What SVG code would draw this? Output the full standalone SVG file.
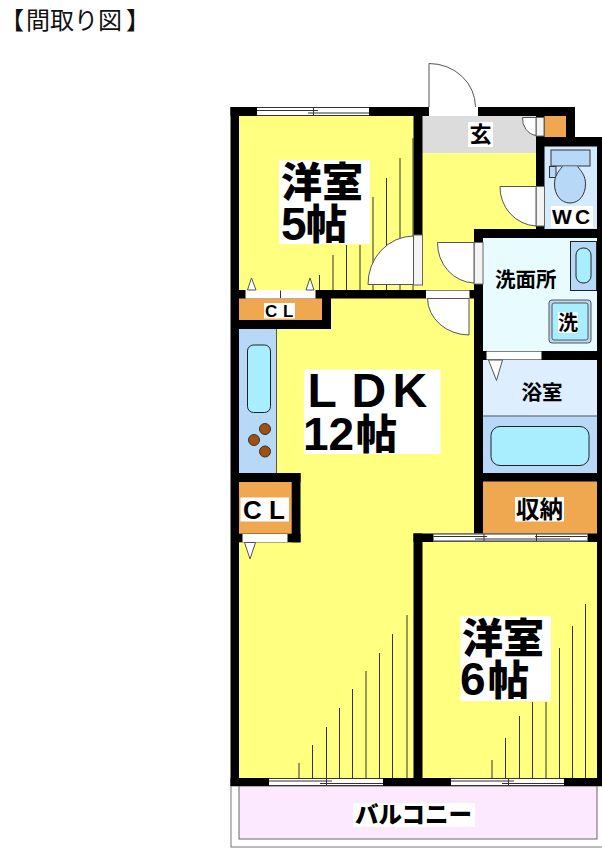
<svg xmlns="http://www.w3.org/2000/svg" width="602" height="852" viewBox="0 0 602 852">
<style>
.t{font-family:"Noto Sans CJK JP","Noto Sans",sans-serif;font-weight:700;fill:#000}
.big{font-family:"Noto Sans CJK JP","Noto Sans",sans-serif;font-weight:900;fill:#000;font-size:41px}
.a{font-family:"Liberation Sans",Arial,sans-serif;font-weight:700;fill:#000}
.w{fill:#000}
.box{fill:#fff}
.y{fill:#ffff80}
.o{fill:#f0a850}
.b{fill:#b8d8f8}
.c{fill:#a8eeff;stroke:#222;stroke-width:1}
.door{fill:#fff;stroke:#555;stroke-width:1}
.hl{stroke:#333;stroke-width:1;fill:none}
.gl{stroke:#555;stroke-width:1;fill:none}
.op{fill:#f4f4f4;stroke:#666;stroke-width:1}
.win{fill:#fff}
</style>
<rect width="602" height="852" fill="#fff"/>
<text x="0 26 50 74 98 126" y="29" font-size="24" style="font-family:'Noto Sans CJK JP','Noto Sans',sans-serif;fill:#111">【間取り図】</text>

<g id="balcony">
<rect x="231" y="786" width="380" height="61" fill="#fff" stroke="#777" stroke-width="1"/>
<rect x="239" y="786" width="358" height="53" fill="#fce8ff" stroke="#666" stroke-width="1"/>
<rect class="box" x="353" y="803" width="122" height="24"/>
<text class="t" x="355" y="823" font-size="23.500" style="font-weight:900">バルコニー</text>
</g>

<g id="floors">
<rect class="y" x="239" y="116" width="336" height="30"/>
<rect class="y" x="239" y="146" width="358" height="632"/>
<rect x="422" y="116" width="114" height="37" fill="#dcdcdc"/>
<rect x="544" y="146" width="53" height="84" fill="#d4eaff"/>
<rect x="483" y="238" width="114" height="113" fill="#e8fbff"/>
<rect x="483" y="360" width="114" height="56" fill="#dceeff"/>
<rect class="b" x="483" y="416" width="114" height="57"/>
<rect class="o" x="483" y="481" width="114" height="53"/>
<rect class="o" x="544" y="116" width="22" height="21"/>
<rect class="o" x="239" y="298" width="83" height="22"/>
<rect class="o" x="239" y="482" width="53" height="52"/>
<rect class="b" x="239" y="329" width="38" height="144"/>
<line class="gl" x1="483" y1="416" x2="597" y2="416"/>
<line class="gl" x1="276.500" y1="329" x2="276.500" y2="473"/>
</g>

<g id="walls">
<rect class="w" x="230.500" y="107" width="8.500" height="679"/>
<rect class="w" x="230.500" y="107" width="344.500" height="9"/>
<rect class="w" x="230.500" y="778" width="371.500" height="8"/>
<rect class="w" x="597" y="137" width="5" height="649"/>
<rect class="w" x="566" y="107" width="9" height="39"/>
<rect class="w" x="536" y="137" width="66" height="9.500"/>
<rect class="w" x="536" y="116" width="8.500" height="114"/>
<rect class="w" x="413.500" y="107" width="9" height="178"/>
<rect class="w" x="239" y="290" width="244" height="8.500"/>
<rect class="w" x="322" y="290" width="9" height="39"/>
<rect class="w" x="239" y="320" width="92" height="9"/>
<rect class="w" x="474" y="229" width="128" height="9"/>
<rect class="w" x="474" y="229" width="9" height="305"/>
<rect class="w" x="483" y="351" width="119" height="9"/>
<rect class="w" x="483" y="473" width="119" height="8.500"/>
<rect class="w" x="413.500" y="533.500" width="188.500" height="8.500"/>
<rect class="w" x="413.500" y="533.500" width="9" height="252"/>
<rect class="w" x="239" y="473" width="61.500" height="9"/>
<rect class="w" x="291.700" y="473" width="8.800" height="69.300"/>
<rect class="w" x="239" y="533.700" width="61.500" height="8.600"/>
</g>

<g id="floor-lines">
<path class="hl" d="M319.500 290V275M333 290V255M346.500 290V245M360 290V245M373 290V197M386.500 290V178M400 290V158M413 138V290"/>
<path class="hl" d="M299 778V763M312.500 778V745M326.500 786V727M339.500 778V708M352.500 778V689M366 778V671M379.500 778V653M392.500 778V634M407 778V615"/>
<path class="hl" d="M492 778V760M505.500 778V738M519.500 778V716M532.500 778V702M546 778V702M559.500 778V648M572.500 778V626M585.500 778V604"/>
</g>

<g id="windows">
<g id="window-north">
<rect class="win" x="257" y="107" width="112" height="9"/>
<path class="hl" d="M257 107.500H369M257 115.500H369M257 110.500H318M308 113H369M313.500 108V115"/>
</g>
<g id="window-south-1">
<rect class="win" x="269" y="778" width="114" height="8"/>
<path class="hl" d="M269 778.500H383M269 785.500H383M269 781H332M320 783.500H383M326.500 778V786"/>
</g>
<g id="window-south-2">
<rect class="win" x="451" y="778" width="113" height="8"/>
<path class="hl" d="M451 778.500H564M451 785.500H564M451 781H514M502 783.500H564M508.500 778V786"/>
</g>
<g id="window-storage">
<rect class="win" x="433.500" y="533.500" width="154" height="8"/>
<path class="hl" d="M433.500 534H587.500M433.500 541H587.500M433.500 536.500H487M484 534V541M475 539H520M535 536.500H587M536.500 534V541M520 539H570"/>
</g>
</g>

<g id="doors">
<g id="door-entry">
<rect class="win" x="429" y="107" width="49" height="9"/>
<path class="door" d="M429 107V63.500A46.500 43.500 0 0 1 475.500 107"/>
</g>
<g id="door-room5">
<rect class="op" x="413.500" y="235" width="9" height="50"/>
<path class="door" d="M413.500 284.500H368A46 48 0 0 1 413.500 236Z"/>
</g>
<g id="door-closet">
<rect class="op" x="536" y="117.500" width="8" height="18.500"/>
<path class="door" d="M522.500 117.500H536V135.500A16 17 0 0 1 522.500 117.500Z"/>
</g>
<g id="door-wc">
<rect class="op" x="536" y="186.500" width="8.500" height="39.500"/>
<path class="door" d="M500 186.500H536V226A38 39 0 0 1 500 186.500Z"/>
</g>
<g id="door-wash">
<rect class="op" x="474" y="242.500" width="9" height="41.500"/>
<path class="door" d="M437.500 242.500H474V283A38 40 0 0 1 437.500 242.500Z"/>
</g>
<g id="door-ldk">
<rect class="win" x="426" y="290.500" width="43.500" height="8"/>
<path class="door" d="M427.500 298.500H469V335A42 37 0 0 1 427.500 298.500Z"/>
</g>
<g id="door-bath">
<rect class="win" x="486.500" y="351.500" width="55" height="8"/>
<path class="door" d="M488.500 360H502.500L496.500 380.500Z"/>
</g>
<g id="cl-upper-door">
<rect class="win" x="245.500" y="290" width="70" height="8.500"/>
<path class="hl" d="M280.500 290.500V298"/>
<path class="door" d="M247.500 290L251.500 278L256 290Z"/>
<path class="door" d="M306 290L310 278L314 290Z"/>
</g>
<g id="cl-lower-door">
<rect class="win" x="242.500" y="534" width="45" height="8"/>
<path class="door" d="M244.500 542.500H255.500L250 559Z"/>
</g>
</g>

<g id="fixtures">
<g id="toilet">
<rect x="551" y="150" width="39" height="16" class="b" stroke="#333"/>
<rect x="549.500" y="166.500" width="6.500" height="11" class="b" stroke="#333"/>
<path class="b" stroke="#333" d="M562.500 166.500C558 172 554.500 176 554.500 184C554.500 195 561 203 570 203C579 203 585.500 195 585.500 184C585.500 176 582 172 577.500 166.500"/>
<rect class="box" x="551" y="206" width="42" height="22"/>
<text class="a" x="552 571 575" y="223.500" font-size="21">W C</text>
</g>
<g id="vanity">
<rect class="b" x="570.500" y="241.500" width="26" height="49" stroke="#222"/>
<rect class="c" x="576" y="248" width="15" height="35" rx="7"/>
</g>
<g id="washer">
<rect class="b" x="549" y="300" width="42" height="43" rx="3" stroke="#555"/>
<rect class="c" x="552" y="303" width="36" height="37" rx="2" style="stroke:#555"/>
<rect class="box" x="558" y="312" width="20" height="21"/>
<text class="t" x="558" y="330" font-size="20">洗</text>
</g>
<g id="bathtub">
<rect class="c" x="491" y="426.500" width="98" height="39" rx="9"/>
</g>
<g id="kitchen">
<rect class="c" x="247.500" y="345" width="23" height="67.500" rx="6"/>
<circle cx="265" cy="429" r="5.500" fill="#a05010" stroke="#333"/>
<circle cx="254" cy="440" r="5.500" fill="#a05010" stroke="#333"/>
<circle cx="265" cy="451.500" r="5.500" fill="#a05010" stroke="#333"/>
</g>
</g>

<g id="labels">
<g id="room-5">
<rect class="box" x="279" y="160" width="91" height="84"/>
<text class="big"><tspan x="281" y="197">洋室</tspan><tspan class="a" x="281" y="240" font-size="46">5</tspan><tspan x="306" y="239">帖</tspan></text>
</g>
<g id="room-6">
<rect class="box" x="460.500" y="616" width="90.500" height="85"/>
<text class="big"><tspan x="462" y="653">洋室</tspan><tspan class="a" x="460" y="695" font-size="46">6</tspan><tspan x="488" y="695">帖</tspan></text>
</g>
<g id="room-ldk">
<rect class="box" x="304" y="369.500" width="136.500" height="84.500"/>
<text class="big"><tspan class="a" x="307.500 340 351.500 381 392.500" y="406.500" font-size="48">L D K</tspan><tspan class="a" x="303" y="449.500" font-size="46">12</tspan><tspan x="356" y="449">帖</tspan></text>
</g>
<g id="genkan">
<rect class="box" x="468" y="122" width="25" height="25"/>
<text class="t" x="469.500" y="142" font-size="22">玄</text>
</g>
<g id="cl-upper">
<rect class="box" x="264" y="303" width="31" height="15.500"/>
<text class="a" x="265 278 283" y="317" font-size="17">C L</text>
</g>
<g id="cl-lower">
<rect class="box" x="240.500" y="497.500" width="48.500" height="24"/>
<text class="a" x="243 262 269" y="519" font-size="26">C L</text>
</g>
<g id="washroom">
<text class="t" x="495" y="287" font-size="20.500">洗面所</text>
</g>
<g id="bath">
<text class="t" x="521.500" y="400" font-size="20.500">浴室</text>
</g>
<g id="storage">
<rect class="box" x="515" y="497" width="49" height="24.500"/>
<text class="t" x="516" y="518" font-size="23.500">収納</text>
</g>
</g>
</svg>
